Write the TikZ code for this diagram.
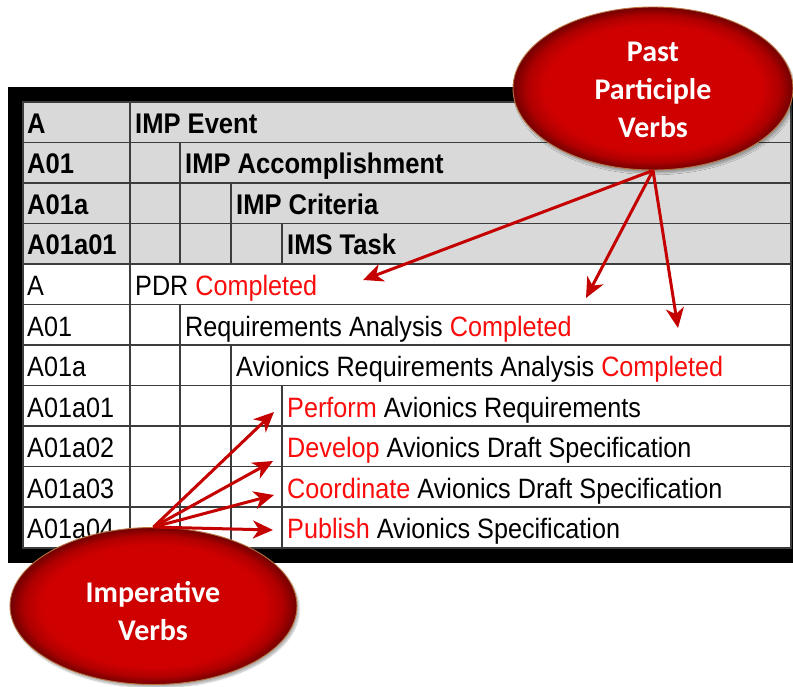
\documentclass[tikz,border=0pt]{standalone}
\usepackage{fontspec}
\newfontfamily\tabfont{Liberation Sans}[FakeStretch=0.9]
\newfontfamily\callfont{Carlito}
\usetikzlibrary{shapes.geometric,arrows.meta,shadows.blur}

\definecolor{hdrgrey}{RGB}{217,217,217}
\definecolor{gridgrey}{RGB}{60,60,60}
\definecolor{verbred}{RGB}{250,12,12}
\definecolor{arrowred}{RGB}{196,0,0}
\definecolor{bubblered}{RGB}{206,0,0}
\definecolor{bubbleedge}{RGB}{185,115,65}

% flat red body with a darker rim (edge of the ellipse sits at 25bp)
\pgfdeclareradialshading{bubbleshade}{\pgfpoint{0bp}{0bp}}{%
  color(0bp)=(bubblered); color(19.5bp)=(bubblered);
  color(22.5bp)=(bubblered!85!black); color(25bp)=(bubblered!55!black);
  color(50bp)=(bubblered!55!black)}

\newcommand{\vred}[1]{\textcolor{verbred}{#1}}

\tikzset{
  grid/.style={draw=gridgrey, line width=1.3pt},
  celltxt/.style={anchor=base west, inner sep=0pt,
    font=\tabfont\fontsize{28}{32}\selectfont},
  hdrtxt/.style={anchor=base west, inner sep=0pt,
    font=\tabfont\bfseries\fontsize{28.4}{32}\selectfont},
  bubble/.style={ellipse, inner sep=0pt, shade, shading=bubbleshade,
    draw=bubbleedge, line width=0.9pt,
    blur shadow={shadow xshift=2pt, shadow yshift=-3pt,
      shadow opacity=30, shadow blur steps=6}},
  bubbletxt/.style={align=center, text=white, inner sep=0pt,
    font=\callfont\bfseries\fontsize{30}{38}\selectfont},
  ptr/.style={draw=arrowred, line width=3pt,
    -{Stealth[length=20pt, width=18pt, inset=6pt]}},
}

\begin{document}
\begin{tikzpicture}[x=1pt, y=-1pt]
\useasboundingbox (0,0) rectangle (793,687);

% black frame and table body
\fill[black] (8,87) rectangle (793,563);
\fill[white] (23,102) rectangle (791,548);
\fill[hdrgrey] (23,102) rectangle (791,264);

% row rules
\foreach \i in {1,...,10}
  \draw[grid] (23,{102+40.5*\i}) -- (791,{102+40.5*\i});
\draw[grid] (23,102) rectangle (791,548);

% column rules (indent levels)
\draw[grid] (130,102) -- (130,548);
\draw[grid] (180,142.5) -- (180,264);
\draw[grid] (180,304.5) -- (180,548);
\draw[grid] (231,183) -- (231,264);
\draw[grid] (231,345) -- (231,548);
\draw[grid] (282,223.5) -- (282,264);
\draw[grid] (282,385.5) -- (282,548);

% header rows
\node[hdrtxt] (h1a) at (27,133.5) {A};
\node[hdrtxt] (h1b) at (135,133.5) {IMP Event};
\node[hdrtxt] (h2a) at (27,174) {A01};
\node[hdrtxt] (h2b) at (185,174) {IMP Accomplishment};
\node[hdrtxt] (h3a) at (27,214.5) {A01a};
\node[hdrtxt] (h3b) at (236,214.5) {IMP Criteria};
\node[hdrtxt] (h4a) at (27,255) {A01a01};
\node[hdrtxt] (h4b) at (287,255) {IMS Task};

% body rows
\node[celltxt] (r1a) at (27,295.5) {A};
\node[celltxt] (r1b) at (135,295.5) {PDR \vred{Completed}};
\node[celltxt] (r2a) at (27,336) {A01};
\node[celltxt] (r2b) at (185,336) {Requirements Analysis \vred{Completed}};
\node[celltxt] (r3a) at (27,376.5) {A01a};
\node[celltxt] (r3b) at (236,376.5) {Avionics Requirements Analysis \vred{Completed}};
\node[celltxt] (r4a) at (27,417) {A01a01};
\node[celltxt] (r4b) at (287,417) {\vred{Perform} Avionics Requirements};
\node[celltxt] (r5a) at (27,457.5) {A01a02};
\node[celltxt] (r5b) at (287,457.5) {\vred{Develop} Avionics Draft Specification};
\node[celltxt] (r6a) at (27,498) {A01a03};
\node[celltxt] (r6b) at (287,498) {\vred{Coordinate} Avionics Draft Specification};
\node[celltxt] (r7a) at (27,538.5) {A01a04};
\node[celltxt] (r7b) at (287,538.5) {\vred{Publish} Avionics Specification};

% callout bubbles
\node[bubble, minimum width=280pt, minimum height=163pt] (past) at (653,88.5) {};
\node[bubbletxt] (pasttxt) at (653,90) {Past\\Participle\\Verbs};
\node[bubble, minimum width=287pt, minimum height=157pt] (imper) at (153.5,606) {};
\node[bubbletxt] (impertxt) at (153,611) {Imperative\\Verbs};

% arrow targets
\coordinate (pt1) at (363,280);
\coordinate (pt2) at (586,298);
\coordinate (pt3) at (678,328);
\coordinate (it1) at (274,412);
\coordinate (it2) at (273,461);
\coordinate (it3) at (274,495);
\coordinate (it4) at (273,530);

% arrows from the bubbles
\draw[ptr] (past.south) -- (pt1);
\draw[ptr] (past.south) -- (pt2);
\draw[ptr] (past.south) -- (pt3);
\draw[ptr] (imper.north) -- (it1);
\draw[ptr] (imper.north) -- (it2);
\draw[ptr] (imper.north) -- (it3);
\draw[ptr] (imper.north) -- (it4);
\end{tikzpicture}
\end{document}
